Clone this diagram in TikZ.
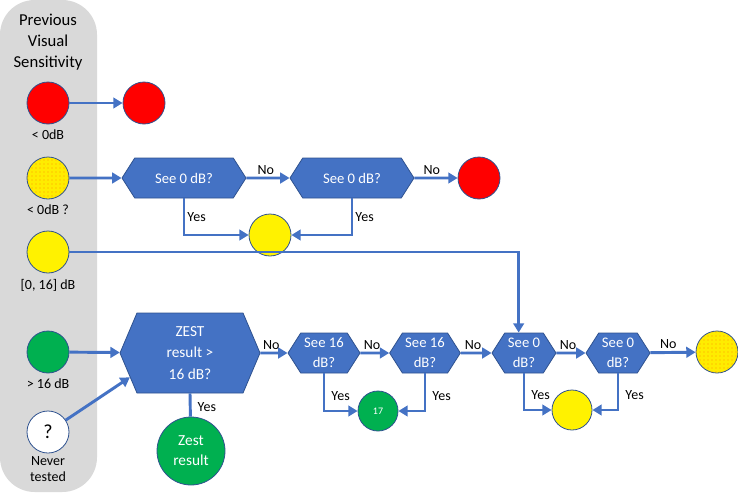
\documentclass[tikz,border=0pt]{standalone}
\usepackage{fontspec}
\setmainfont{Carlito}
\usetikzlibrary{arrows.meta}
\usetikzlibrary{patterns}
\usetikzlibrary{shapes.symbols}
\usetikzlibrary{positioning}

\definecolor{flowblue}{RGB}{68,114,196}
\definecolor{edgeblue}{RGB}{47,82,143}
\definecolor{panelgrey}{RGB}{217,217,217}
\definecolor{dotyellow}{RGB}{255,236,0}
\definecolor{okgreen}{RGB}{0,176,80}

\tikzset{
  dot/.style={circle, draw=edgeblue, line width=0.6pt, minimum size=31.5pt, inner sep=0pt},
  reddot/.style={dot, fill=red},
  yeldot/.style={dot, fill=yellow},
  grndot/.style={dot, fill=okgreen, text=white},
  unsure/.style={dot, fill=dotyellow, postaction={pattern=dots, pattern color=orange!80!yellow}},
  test/.style={signal, signal to=west and east, signal pointer angle=115, fill=flowblue, draw=edgeblue,
    line width=0.6pt, text=white, inner sep=1pt, align=center, font=\fontsize{11}{15}\selectfont},
  flow/.style={draw=flowblue, line width=2.2pt, -{Triangle[length=7pt,width=8pt]}},
  ans/.style={font=\fontsize{10.5}{12}\selectfont, inner sep=1.5pt},
  tag/.style={font=\fontsize{10.5}{12}\selectfont, align=center, inner sep=0pt},
}

\begin{document}
\begin{tikzpicture}[x=0.75pt,y=0.75pt,yscale=-1,xscale=1]
\path[use as bounding box] (0,0) rectangle (738,496);

%Shape: Rounded Rectangle
\fill[panelgrey, rounded corners=26pt] (0,0) rectangle (97,492);

% Text Node
\node[align=center, font=\fontsize{12.5}{15.5}\selectfont] (title) at (48,42) {Previous\\Visual\\Sensitivity};

%Shape: Circles (previous sensitivity)
\node[reddot] (pr) at (48,103) {};
\node[unsure] (pd) at (48,178) {};
\node[yeldot] (py) at (48,252) {};
\node[grndot] (pg) at (48,352) {};
\node[dot, fill=white, font=\fontsize{15}{15}\selectfont] (pn) at (48,432) {?};

% Text Node
\node[tag, below=4pt of pr] (prtag) {< 0dB};
\node[tag, below=4pt of pd] (pdtag) {< 0dB ?};
\node[tag, below=4pt of py] (pytag) {[0, 16] dB};
\node[tag, below=4pt of pg] (pgtag) {> 16 dB};
\node[tag, below=2pt of pn] (pntag) {Never\\tested};

%Shape: Tests
\node[test, minimum width=93pt, minimum height=30pt] (hA) at (184,178) {See 0 dB?};
\node[test, minimum width=93pt, minimum height=30pt] (hB) at (352,178) {See 0 dB?};
\node[test, minimum width=105pt, minimum height=60pt, signal pointer angle=134,
  font=\fontsize{11.5}{16}\selectfont] (zest) at (190,353) {ZEST\\result >\\16 dB?};
\node[test, minimum width=54pt, minimum height=30pt] (sA) at (324,353) {See 16\\dB?};
\node[test, minimum width=53pt, minimum height=30pt] (sB) at (425,353) {See 16\\dB?};
\node[test, minimum width=48pt, minimum height=30pt] (tA) at (524,353) {See 0\\dB?};
\node[test, minimum width=48pt, minimum height=30pt] (tB) at (618,353) {See 0\\dB?};

%Shape: Circles (outcomes)
\node[reddot] (rA) at (144,103) {};
\node[reddot] (rB) at (479,178) {};
\node[yeldot] (yA) at (270,235) {};
\node[grndot, minimum size=51pt, align=center, font=\fontsize{11.5}{15}\selectfont] (zres) at (191,451) {Zest\\result};
\node[grndot, minimum size=30pt, font=\fontsize{7.5}{8}\selectfont] (g17) at (378,411) {17};
\node[yeldot, minimum size=30pt] (yB) at (572,410) {};
\node[unsure] (dB) at (717,352) {};

%Straight Lines
\draw[flow] (pr) -- (rA);
\draw[flow] (pd) -- (hA);
\draw[flow] (hA) -- node[ans, above, pos=0.45] {No} (hB);
\draw[flow] (hB) -- node[ans, above, pos=0.4] {No} (rB);
\draw[flow] (hA.south) |- node[ans, right, pos=0.25] {Yes} (yA);
\draw[flow] (hB.south) |- node[ans, right, pos=0.25] {Yes} (yA);
\draw[flow] (py) -| ([xshift=-4]tA.north);

\draw[flow] (pg) -- (zest);
\draw[flow] (pn) -- (zest.202);
\draw[draw=flowblue, line width=2.2pt] (zest.south) -- node[ans, right=3pt, pos=0.6] {Yes} (zres);
\draw[flow] (zest) -- node[ans, above, pos=0.4] {No} (sA);
\draw[flow] (sA) -- node[ans, above, pos=0.4] {No} (sB);
\draw[flow] (sB) -- node[ans, above, pos=0.4] {No} (tA);
\draw[flow] (tA) -- node[ans, above, pos=0.4] {No} (tB);
\draw[flow] (tB) -- node[ans, above, pos=0.4] {No} (dB);
\draw[flow] (sA.south) |- node[ans, right=3pt, pos=0.3] {Yes} (g17);
\draw[flow] (sB.south) |- node[ans, right=3pt, pos=0.3] {Yes} (g17);
\draw[flow] (tA.south) |- node[ans, right=3pt, pos=0.3] {Yes} (yB);
\draw[flow] (tB.south) |- node[ans, right=3pt, pos=0.3] {Yes} (yB);

\end{tikzpicture}
\end{document}
